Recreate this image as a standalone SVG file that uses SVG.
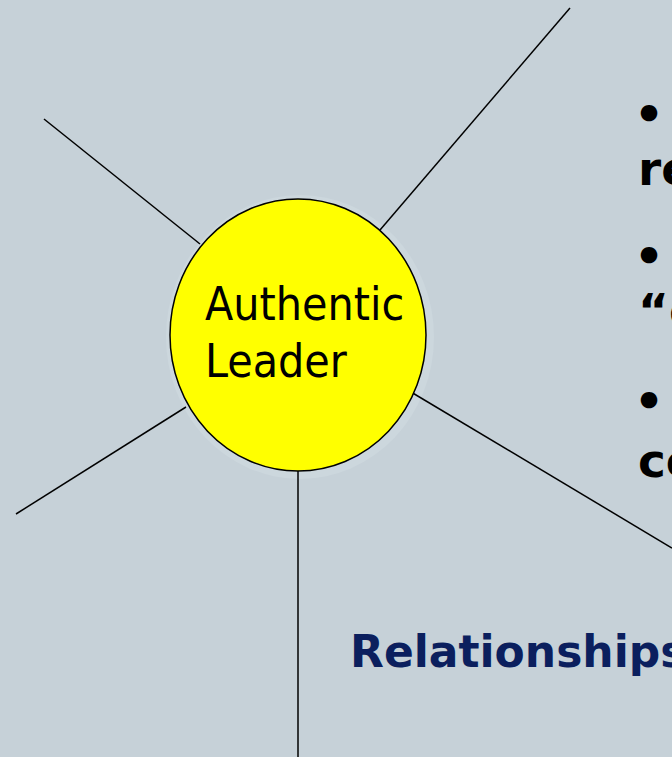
<svg xmlns="http://www.w3.org/2000/svg" width="672" height="757" viewBox="0 0 672 757">
<style>
.ln{stroke:#000;stroke-width:1.5;fill:none}
.b{font-family:"DejaVu Sans",Verdana,sans-serif;font-weight:bold;font-size:47px;fill:#000}
</style>
<rect width="672" height="757" fill="#C6D1D8"/>
<ellipse cx="300" cy="337" rx="134" ry="142" fill="#CCD7DD"/>
<g id="connectors">
<line class="ln" x1="44" y1="119" x2="200" y2="244"/>
<line class="ln" x1="570" y1="8" x2="380" y2="230"/>
<line class="ln" x1="16" y1="514" x2="186" y2="407"/>
<line class="ln" x1="411" y1="392" x2="672" y2="548"/>
<line class="ln" x1="298" y1="471" x2="298" y2="757"/>
</g>
<g id="leader">
<ellipse cx="298" cy="335" rx="128" ry="136" fill="#FFFF00" stroke="#000" stroke-width="1.5"/>
<text font-family="'DejaVu Sans Condensed','DejaVu Sans',sans-serif" font-size="46" fill="#000"><tspan x="205" y="320">Authentic</tspan><tspan x="205" y="377">Leader</tspan></text>
</g>
<g id="bullets">
<text class="b" x="634" y="130">•</text>
<text class="b" x="638" y="185">re</text>
<text class="b" x="634" y="272">•</text>
<text class="b" x="638" y="327">“g</text>
<text class="b" x="634" y="417">•</text>
<text class="b" x="638" y="477">co</text>
</g>
<g id="relationships">
<text x="350" y="667" font-family="'DejaVu Sans',Verdana,sans-serif" font-weight="bold" font-size="44" fill="#0B1F5E">Relationships</text>
</g>
</svg>
